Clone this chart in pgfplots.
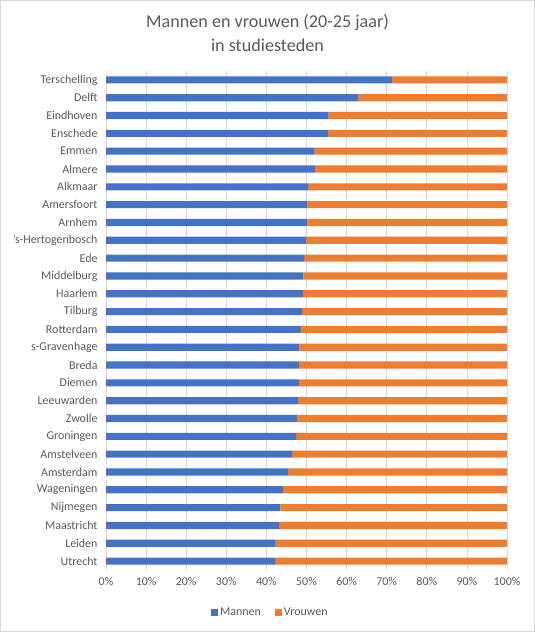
\documentclass[border=0pt]{standalone}
\usepackage{fontspec}
\setmainfont{Carlito}
\usepackage{pgfplots}
\pgfplotsset{compat=1.18}
\definecolor{mblue}{HTML}{4472C4}
\definecolor{morange}{HTML}{ED7D31}
\definecolor{txtgray}{HTML}{595959}
\definecolor{gridgray}{HTML}{D9D9D9}

\begin{document}
\begin{tikzpicture}[x=1bp,y=1bp]
\draw[gridgray, line width=1bp] (0.5,0.5) rectangle (534.5,631.5);
\node[txtgray, font=\fontsize{18.2}{22}\selectfont] at (267.5,610) {Mannen en vrouwen (20-25 jaar)};
\node[txtgray, font=\fontsize{18.2}{22}\selectfont] at (267.5,587) {in studiesteden};
\begin{axis}[
    at={(106bp,62bp)}, anchor=south west,
    scale only axis,
    width=401bp, height=499bp,
    xbar stacked,
    bar width=0.4,
    xmin=0, xmax=100,
    ymin=-0.5, ymax=27.5,
    xtick={0,10,...,100},
    xticklabels={0\%,10\%,20\%,30\%,40\%,50\%,60\%,70\%,80\%,90\%,100\%},
    ytick={0,...,27},
    yticklabels={Utrecht,Leiden,Maastricht,Nijmegen,Wageningen,Amsterdam,Amstelveen,Groningen,Zwolle,Leeuwarden,Diemen,Breda,s-Gravenhage,Rotterdam,Tilburg,Haarlem,Middelburg,Ede,'s-Hertogenbosch,Arnhem,Amersfoort,Alkmaar,Almere,Emmen,Enschede,Eindhoven,Delft,Terschelling},
    axis line style={draw=none},
    major tick length=0,
    xmajorgrids,
    grid style={gridgray, line width=0.75bp},
    ticklabel style={font=\fontsize{12}{14}\selectfont, text=txtgray},
    yticklabel style={xshift=-5bp},
    xticklabel style={yshift=-4bp},
    legend columns=2,
    legend style={at={(axis description cs:0.41,-0.085)}, anchor=center, draw=none,
        font=\fontsize{12}{14}\selectfont, text=txtgray,
        /tikz/every even column/.append style={column sep=12bp}},
    legend image code/.code={\fill[#1] (0bp,-3.5bp) rectangle (7bp,3.5bp);},
]
\addplot[fill=mblue, draw=none] coordinates {
    (42.2,0)(42.3,1)(43.2,2)(43.5,3)(44.1,4)(45.4,5)(46.4,6)(47.4,7)(47.6,8)(47.9,9)
    (48.1,10)(48.1,11)(48.2,12)(48.6,13)(48.9,14)(49.1,15)(49.2,16)(49.4,17)(49.9,18)(50.2,19)
    (50.2,20)(50.4,21)(52.1,22)(52.0,23)(55.3,24)(55.5,25)(62.8,26)(71.3,27)
};
\addlegendentry{Mannen}
\addplot[fill=morange, draw=none] coordinates {
    (57.8,0)(57.7,1)(56.8,2)(56.5,3)(55.9,4)(54.6,5)(53.6,6)(52.6,7)(52.4,8)(52.1,9)
    (51.9,10)(51.9,11)(51.8,12)(51.4,13)(51.1,14)(50.9,15)(50.8,16)(50.6,17)(50.1,18)(49.8,19)
    (49.8,20)(49.6,21)(47.9,22)(48.0,23)(44.7,24)(44.5,25)(37.2,26)(28.7,27)
};
\addlegendentry{Vrouwen}
\end{axis}
\end{tikzpicture}
\end{document}
